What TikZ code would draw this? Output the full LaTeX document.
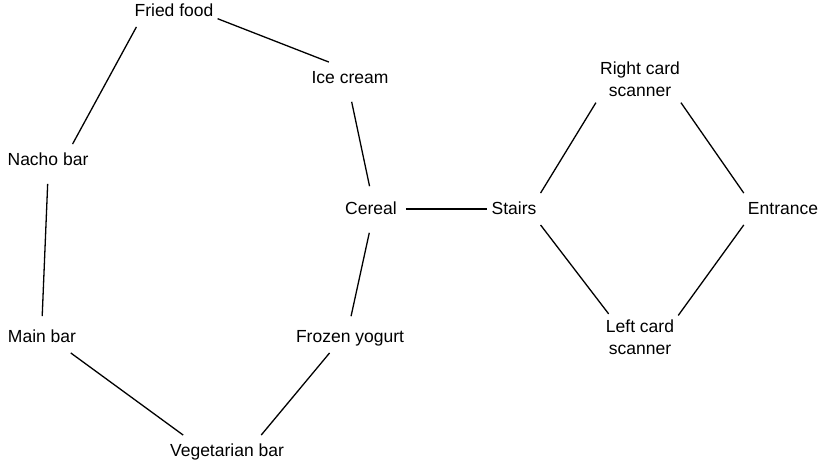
\documentclass[tikz,border=0pt]{standalone}
\usepackage{fontspec}
\setmainfont{Liberation Sans}
\begin{document}
\begin{tikzpicture}[x=1pt,y=1pt,
  lblbase/.style={inner xsep=4pt, inner ysep=9pt, align=center,
    font=\fontsize{17.5}{22}\selectfont},
  lbl/.style={lblbase, text height=12.5pt, text depth=1pt},
  lbltwo/.style={lblbase, inner ysep=6pt},
  link/.style={line width=1.3pt, black}]
\useasboundingbox (0,-464) rectangle (824,0);
\node[lbl] (fried) at (174,-11) {Fried food};
\node[lbl] (ice) at (350,-78) {Ice cream};
\node[lbl] (nacho) at (48,-160) {Nacho bar};
\node[lbl] (cereal) at (371,-209) {Cereal};
\node[lbl] (stairs) at (514,-209) {Stairs};
\node[lbltwo] (right) at (640,-79) {Right card\\scanner};
\node[lbl] (entr) at (783,-209) {Entrance};
\node[lbltwo] (left) at (640,-337.5) {Left card\\scanner};
\node[lbl] (main) at (42,-337) {Main bar};
\node[lbl] (froz) at (350,-337) {Frozen yogurt};
\node[lbl] (veg) at (227,-451) {Vegetarian bar};
\draw[link] (fried.-10) -- (ice.143);
\draw[link] (fried.-157) -- (nacho.33);
\draw[link, shorten <=8pt, shorten >=5pt] (nacho.south) -- (main.north);
\draw[link] (main.-29) -- (veg.160);
\draw[link] (veg.25) -- (froz.-142);
\draw[link, shorten <=5pt, shorten >=8pt] (froz.north) -- (cereal.south);
\draw[link, shorten <=7pt, shorten >=8pt] (cereal.north) -- (ice.south);
\draw[link, shorten <=5pt] (cereal.east) -- (stairs.west);
\draw[link] (stairs.north east) -- (right.south west);
\draw[link] (stairs.south east) -- (left.143);
\draw[link] (right.-30) -- (entr.north west);
\draw[link] (left.30) -- (entr.south west);
\end{tikzpicture}
\end{document}
